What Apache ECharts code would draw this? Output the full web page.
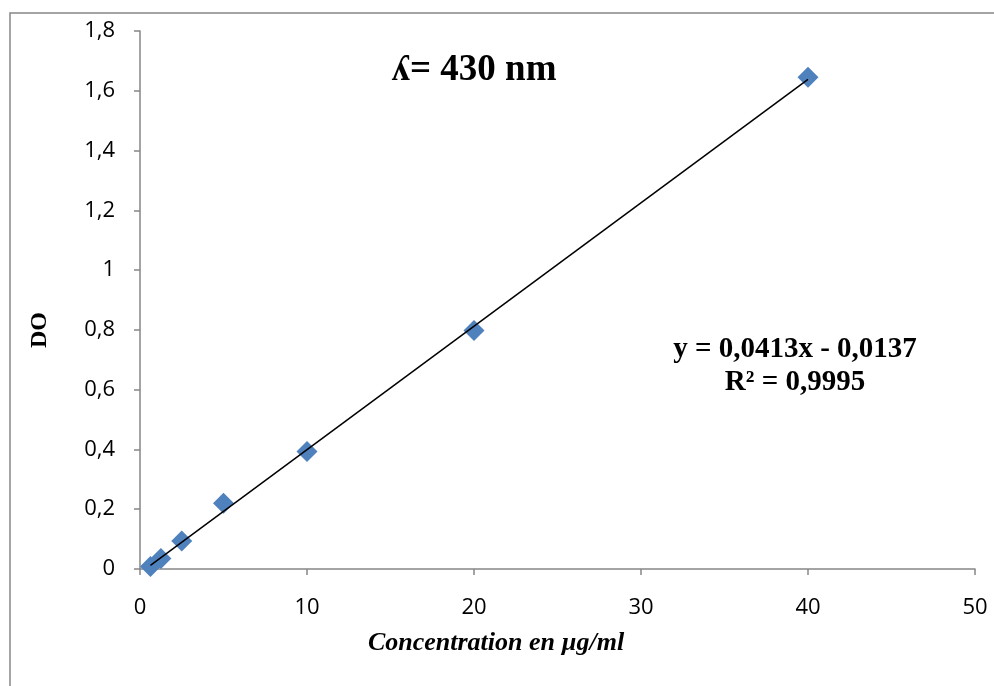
<!DOCTYPE html>
<html>
<head>
<meta charset="utf-8">
<script src="https://cdn.jsdelivr.net/npm/echarts@6/dist/echarts.min.js"></script>
<style>
  html, body { margin: 0; padding: 0; background: #fff; }
  #main { width: 994px; height: 686px; }
</style>
</head>
<body>
<div id="main"></div>
<script>
// concentration (µg/ml) and optical density
var concentrations = [0.625, 1.25, 2.5, 5, 10, 20, 40];
var absorbances = [0.008, 0.035, 0.094, 0.22, 0.393, 0.798, 1.645];
// linear trendline as printed on the chart
var slope = 0.0413;
var intercept = -0.0137;
var trendX = [0.625, 40];

var points = concentrations.map(function (c, i) { return [c, absorbances[i]]; });
var trend = trendX.map(function (x) { return [x, slope * x + intercept]; });

var myChart = echarts.init(document.getElementById('main'));
var axisGrey = '#868686';
var tickFont = { fontFamily: 'Open Sans', fontSize: 22, color: '#000' };

var option = {
    animation: false,
    backgroundColor: '#fff',
    grid: { left: 140, right: 19, top: 31, bottom: 117 },
    graphic: [
        {
            type: 'rect',
            shape: { x: 10, y: 13, width: 1000, height: 700 },
            style: { fill: 'none', stroke: axisGrey, lineWidth: 1.5 },
            silent: true
        },
        {
            type: 'text',
            x: 474, y: 70,
            style: { text: 'ʎ= 430 nm', font: 'bold 37px "Liberation Serif"', fill: '#000', align: 'center', verticalAlign: 'middle' }
        },
        {
            type: 'text',
            x: 795, y: 366,
            style: {
                text: 'y = 0,0413x - 0,0137\nR² = 0,9995',
                font: 'bold 29px "Liberation Serif"',
                fill: '#000', align: 'center', verticalAlign: 'middle', lineHeight: 33
            }
        },
        {
            type: 'text',
            x: 496, y: 643,
            style: { text: 'Concentration en µg/ml', font: 'italic bold 26px "Liberation Serif"', fill: '#000', align: 'center', verticalAlign: 'middle' }
        },
        {
            type: 'text',
            x: 40, y: 330,
            rotation: Math.PI / 2,
            style: { text: 'DO', font: 'bold 24px "Liberation Serif"', fill: '#000', align: 'center', verticalAlign: 'middle' }
        }
    ],
    xAxis: {
        type: 'value',
        min: 0, max: 50, interval: 10,
        axisLine: { lineStyle: { color: axisGrey, width: 1.5 } },
        axisTick: { show: true, length: 6, lineStyle: { color: axisGrey, width: 1.5 } },
        axisLabel: Object.assign({ margin: 28 }, tickFont),
        splitLine: { show: false }
    },
    yAxis: {
        type: 'value',
        min: 0, max: 1.8, interval: 0.2,
        axisLine: { show: true, lineStyle: { color: axisGrey, width: 1.5 } },
        axisTick: { show: true, length: 6, lineStyle: { color: axisGrey, width: 1.5 } },
        axisLabel: Object.assign({
            margin: 25,
            formatter: function (v) { return String(Math.round(v * 10) / 10).replace('.', ','); }
        }, tickFont),
        splitLine: { show: false }
    },
    series: [
        {
            name: 'trend',
            type: 'line',
            data: trend,
            symbol: 'none',
            lineStyle: { color: '#000', width: 1.5 },
            z: 3
        },
        {
            name: 'DO',
            type: 'scatter',
            data: points,
            symbol: 'diamond',
            symbolSize: 21,
            itemStyle: { color: '#4F81BD', opacity: 1 },
            z: 2
        }
    ]
};

myChart.setOption(option);
</script>
</body>
</html>
